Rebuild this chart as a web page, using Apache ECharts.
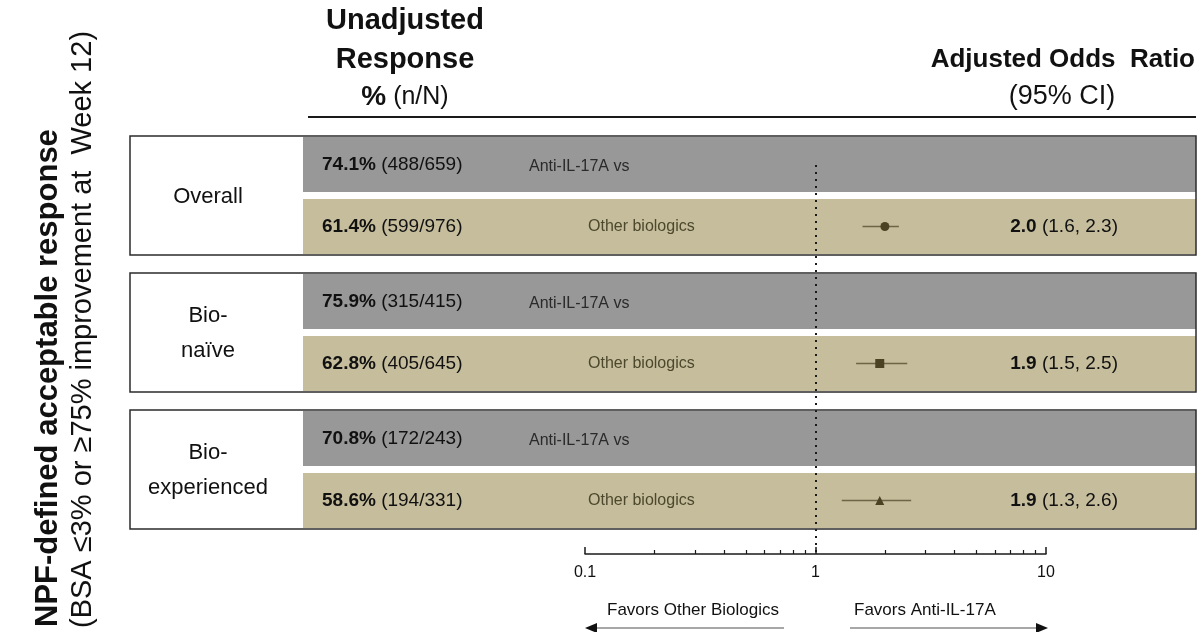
<!DOCTYPE html>
<html>
<head>
<meta charset="utf-8">
<title>NPF-defined acceptable response</title>
<script src="https://cdn.jsdelivr.net/npm/echarts@6/dist/echarts.min.js"></script>
<style>
	html, body { margin: 0; padding: 0; background: #fff; }
	#chart { width: 1201px; height: 632px; }
</style>
</head>
<body>
<div id="chart"></div>
<script>
// subgroups
var groups = ['Overall', 'Bio-\nnaïve', 'Bio-\nexperienced'];
// anti-IL-17A row: response %, n, N
var antiPct = [74.1, 75.9, 70.8];
var antiN = [488, 315, 172];
var antiTotal = [659, 415, 243];
// other biologics row: response %, n, N
var otherPct = [61.4, 62.8, 58.6];
var otherN = [599, 405, 194];
var otherTotal = [976, 645, 331];
// adjusted odds ratio (95% CI)
var oddsRatio = [2.0, 1.9, 1.9];
var ciLow = [1.6, 1.5, 1.3];
var ciHigh = [2.3, 2.5, 2.6];
// axis ticks
var majorTicks = [0.1, 1, 10];
var minorTicks = [0.2, 0.3, 0.4, 0.5, 0.6, 0.7, 0.8, 0.9, 2, 3, 4, 5, 6, 7, 8, 9];

var FONT = '"Liberation Sans", Arial, sans-serif';

var ForestChart = {
	L : {
		gridTop : 136,
		axisY : 554,
		axisLeft : 585,
		axisRight : 1046,
		groupPitch : 137,
		bandH : 55,
		bandGap : 7,
		boxLeft : 130,
		bandLeft : 303,
		boxRight : 1196
	},
	init : function() {
		var chart = echarts.init(document.getElementById('chart'));
		chart.setOption(ForestChart.buildOption(), true);
	},
	/**
	 * y value of group g (tan row centre = g)
	 */
	yRange : function() {
		var L = ForestChart.L;
		var firstCentre = 1 + L.bandH + L.bandGap + L.bandH / 2;
		var min = -firstCentre / L.groupPitch;
		var max = min + (L.axisY - L.gridTop) / L.groupPitch;
		return [ min, max ];
	},
	/**
	 * table: boxes, bands, texts, headers, arrows
	 */
	buildGraphics : function() {
		var L = ForestChart.L;
		var els = [];
		var boxH = 1 + L.bandH * 2 + L.bandGap + 1;
		for (var g = 0; g < groups.length; g++) {
			var top = L.gridTop + g * L.groupPitch;
			var greyY = top + 1;
			var tanY = greyY + L.bandH + L.bandGap;
			els.push({
				type : 'rect', z : 0,
				shape : { x : L.boxLeft, y : top, width : L.boxRight - L.boxLeft, height : boxH },
				style : { fill : '#fff' }
			});
			els.push({
				type : 'rect', z : 1,
				shape : { x : L.bandLeft, y : greyY, width : L.boxRight - L.bandLeft, height : L.bandH },
				style : { fill : '#989898' }
			});
			els.push({
				type : 'rect', z : 1,
				shape : { x : L.bandLeft, y : tanY, width : L.boxRight - L.bandLeft, height : L.bandH },
				style : { fill : '#C5BD9C' }
			});
			els.push({
				type : 'rect', z : 10,
				shape : { x : L.boxLeft, y : top, width : L.boxRight - L.boxLeft, height : boxH },
				style : { fill : null, stroke : '#2b2b2b', lineWidth : 1.5 }
			});
			els.push({
				type : 'text', z : 5, x : 208, y : top + boxH / 2 + 1,
				style : { text : groups[g], font : '22px ' + FONT, fill : '#111', align : 'center', verticalAlign : 'middle', lineHeight : 35 }
			});
			els.push({
				type : 'text', z : 5, x : 322, y : greyY + L.bandH / 2,
				style : {
					text : '{b|' + antiPct[g].toFixed(1) + '%} (' + antiN[g] + '/' + antiTotal[g] + ')',
					font : '19px ' + FONT, fill : '#111', verticalAlign : 'middle',
					rich : { b : { fontWeight : 'bold', fontSize : 19, fontFamily : FONT } }
				}
			});
			els.push({
				type : 'text', z : 5, x : 322, y : tanY + L.bandH / 2,
				style : {
					text : '{b|' + otherPct[g].toFixed(1) + '%} (' + otherN[g] + '/' + otherTotal[g] + ')',
					font : '19px ' + FONT, fill : '#111', verticalAlign : 'middle',
					rich : { b : { fontWeight : 'bold', fontSize : 19, fontFamily : FONT } }
				}
			});
			els.push({
				type : 'text', z : 5, x : 529, y : greyY + L.bandH / 2 + 2,
				style : { text : 'Anti-IL-17A vs', font : '16px ' + FONT, fill : '#2a2a2a', verticalAlign : 'middle' }
			});
			els.push({
				type : 'text', z : 5, x : 588, y : tanY + L.bandH / 2,
				style : { text : 'Other biologics', font : '16px ' + FONT, fill : '#4d482c', verticalAlign : 'middle' }
			});
			els.push({
				type : 'text', z : 5, x : 1118, y : tanY + L.bandH / 2,
				style : {
					text : '{b|' + oddsRatio[g].toFixed(1) + '} (' + ciLow[g].toFixed(1) + ', ' + ciHigh[g].toFixed(1) + ')',
					font : '19px ' + FONT, fill : '#111', align : 'right', verticalAlign : 'middle',
					rich : { b : { fontWeight : 'bold', fontSize : 19, fontFamily : FONT } }
				}
			});
		}
		// headers
		var hdr = [ [ 'Unadjusted', 21 ], [ 'Response', 60 ] ];
		for (var i = 0; i < hdr.length; i++) {
			els.push({
				type : 'text', x : 405, y : hdr[i][1],
				style : { text : hdr[i][0], font : 'bold 29px ' + FONT, fill : '#111', align : 'center', verticalAlign : 'middle' }
			});
		}
		els.push({
			type : 'text', x : 405, y : 97,
			style : {
				text : '{b|%} (n/N)', font : '25px ' + FONT, fill : '#111', align : 'center', verticalAlign : 'middle',
				rich : { b : { fontWeight : 'bold', fontSize : 28, fontFamily : FONT } }
			}
		});
		els.push({
			type : 'text', x : 1195, y : 60,
			style : { text : 'Adjusted Odds  Ratio', font : 'bold 26px ' + FONT, fill : '#111', align : 'right', verticalAlign : 'middle' }
		});
		els.push({
			type : 'text', x : 1062, y : 97,
			style : { text : '(95% CI)', font : '27px ' + FONT, fill : '#111', align : 'center', verticalAlign : 'middle' }
		});
		els.push({
			type : 'line', shape : { x1 : 308, y1 : 117, x2 : L.boxRight, y2 : 117 },
			style : { stroke : '#1a1a1a', lineWidth : 2 }
		});
		// rotated y titles
		els.push({
			type : 'text', x : 48, y : 627, rotation : Math.PI / 2,
			style : { text : 'NPF-defined acceptable response', font : 'bold 31px ' + FONT, fill : '#111', align : 'left', verticalAlign : 'middle' }
		});
		els.push({
			type : 'text', x : 83, y : 628, rotation : Math.PI / 2,
			style : { text : '(BSA \u22643% or \u226575% improvement at  Week 12)', font : '29px ' + FONT, fill : '#111', align : 'left', verticalAlign : 'middle' }
		});
		// favours arrows
		els.push({
			type : 'text', x : 693, y : 610,
			style : { text : 'Favors Other Biologics', font : '17px ' + FONT, fill : '#111', align : 'center', verticalAlign : 'middle' }
		});
		els.push({
			type : 'text', x : 854, y : 610,
			style : { text : 'Favors Anti-IL-17A', font : '17px ' + FONT, fill : '#111', align : 'left', verticalAlign : 'middle' }
		});
		els.push({
			type : 'line', shape : { x1 : L.axisLeft + 8, y1 : 628, x2 : 784, y2 : 628 },
			style : { stroke : '#8a8a8a', lineWidth : 1.5 }
		});
		els.push({
			type : 'polygon', shape : { points : [ [ L.axisLeft, 628 ], [ L.axisLeft + 12, 623 ], [ L.axisLeft + 12, 633 ] ] },
			style : { fill : '#111' }
		});
		els.push({
			type : 'line', shape : { x1 : 850, y1 : 628, x2 : L.axisRight - 8, y2 : 628 },
			style : { stroke : '#8a8a8a', lineWidth : 1.5 }
		});
		els.push({
			type : 'polygon', shape : { points : [ [ L.axisRight + 2, 628 ], [ L.axisRight - 10, 623 ], [ L.axisRight - 10, 633 ] ] },
			style : { fill : '#111' }
		});
		return els;
	},

	buildOption : function() {
		var L = ForestChart.L;
		var yr = ForestChart.yRange();
		var symbols = [ 'circle', 'rect', 'triangle' ];
		var ciData = [];
		var pointData = [];
		for (var i = 0; i < oddsRatio.length; i++) {
			ciData.push([ ciLow[i], ciHigh[i], i ]);
			pointData.push({ value : [ oddsRatio[i], i ], symbol : symbols[i] });
		}
		// dotted reference line starts just inside the first grey band
		var refStart = yr[0] + 29 / L.groupPitch;
		var option = {
			animation : false,
			backgroundColor : '#fff',
			graphic : { elements : ForestChart.buildGraphics() },
			grid : {
				left : L.axisLeft,
				right : 1201 - L.axisRight,
				top : L.gridTop,
				bottom : 632 - L.axisY
			},
			xAxis : [ {
				type : 'log',
				logBase : 10,
				min : 0.1,
				max : 10,
				position : 'bottom',
				axisLine : { show : true, onZero : false, lineStyle : { color : '#1a1a1a', width : 1.5 } },
				axisTick : { show : true, inside : true, length : 7, customValues : majorTicks, lineStyle : { color : '#1a1a1a', width : 1.5 } },
				axisLabel : { show : true, customValues : majorTicks, margin : 11, fontSize : 16, color : '#111', fontFamily : FONT },
				splitLine : { show : false }
			}, {
				type : 'log',
				logBase : 10,
				min : 0.1,
				max : 10,
				position : 'bottom',
				axisLine : { show : false, onZero : false },
				axisTick : { show : true, inside : true, length : 4, customValues : minorTicks, lineStyle : { color : '#1a1a1a', width : 1.2 } },
				axisLabel : { show : false },
				splitLine : { show : false }
			} ],
			yAxis : {
				type : 'value',
				min : yr[0],
				max : yr[1],
				inverse : true,
				show : false
			},
			series : [ {
				name : 'CI',
				type : 'custom',
				z : 3,
				encode : { x : [ 0, 1 ], y : 2 },
				renderItem : function(params, api) {
					var s = api.coord([ api.value(0), api.value(2) ]);
					var e = api.coord([ api.value(1), api.value(2) ]);
					return {
						type : 'line',
						shape : { x1 : s[0], y1 : s[1], x2 : e[0], y2 : e[1] },
						style : { stroke : '#6d6645', lineWidth : 1.5 }
					};
				},
				data : ciData
			}, {
				name : 'Odds ratio',
				type : 'scatter',
				z : 4,
				symbolSize : 9,
				itemStyle : { color : '#4a4222', opacity : 1 },
				data : pointData,
				markLine : {
					silent : true,
					symbol : 'none',
					label : { show : false },
					lineStyle : { type : [ 2, 5 ], color : '#1a1a1a', width : 2 },
					data : [ [ { coord : [ 1, refStart ] }, { coord : [ 1, yr[1] ] } ] ]
				}
			} ]
		};
		return option;
	}
};
ForestChart.init();
</script>
</body>
</html>
